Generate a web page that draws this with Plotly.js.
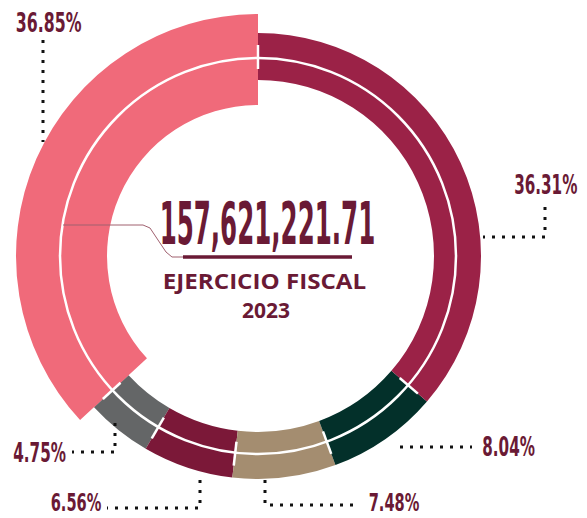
<!DOCTYPE html>
<html>
<head>
<meta charset="utf-8">
<script src="https://cdn.plot.ly/plotly-3.0.1.min.js"></script>
<style>html,body{margin:0;padding:0;background:#fff;}#chart{width:587px;height:518px;}</style>
</head>
<body>
<div id="chart"></div>
<script>
// ---- data ----
var categories = ["Segmento A", "Segmento B", "Segmento C", "Segmento D", "Segmento E", "Segmento F"];
var shares = [36.85, 4.75, 6.56, 7.48, 8.04, 36.31];
var colors = ["#F06A7A", "#646667", "#7B1838", "#A48D70", "#03302A", "#9B2247"];
var totalLabel = "157,621,221.71";
var subtitleLines = ["EJERCICIO FISCAL", "2023"];

// ---- geometry (pixels) ----
var W = 587, H = 518;
var cx = 258, cy = 256;
var ringOuter = 223, ringInner = 176;
var bigOuter = 242, bigInner = 151;
var lineR = 198;
var textColor = "#6A1A35";
var narrow = "Liberation Sans Narrow, DejaVu Sans Condensed, Arial Narrow, sans-serif";

function px(x) { return x / W; }
function py(y) { return 1 - y / H; }
function dom(R) { return { x: [px(cx - R), px(cx + R)], y: [py(cy + R), py(cy - R)] }; }

var total = shares.reduce(function (a, b) { return a + b; }, 0);
// counterclockwise mode ends the first slice at 'rotation'; shift so it starts at 12 o'clock
var rot = -360 * shares[0] / total;

var traceRing = {
  type: "pie", values: shares, labels: categories, sort: false,
  direction: "counterclockwise", rotation: rot, hole: ringInner / ringOuter,
  domain: dom(ringOuter), marker: { colors: colors, line: { width: 0 } },
  textinfo: "none", hoverinfo: "none", showlegend: false
};
var bigColors = colors.map(function (c, i) { return i === 0 ? c : "rgba(0,0,0,0)"; });
var traceBig = {
  type: "pie", values: shares, labels: categories, sort: false,
  direction: "counterclockwise", rotation: rot, hole: bigInner / bigOuter,
  domain: dom(bigOuter), marker: { colors: bigColors, line: { width: 0 } },
  textinfo: "none", hoverinfo: "none", showlegend: false
};

var shapes = [];
// white separating circle
shapes.push({ type: "circle", xref: "paper", yref: "paper", layer: "above",
  x0: px(cx - lineR), x1: px(cx + lineR), y0: py(cy + lineR), y1: py(cy - lineR),
  line: { color: "#ffffff", width: 2.5 } });
// white ticks at slice boundaries (slices run counterclockwise from 12 o'clock on screen)
var cum = 0;
for (var i = 0; i < shares.length; i++) {
  var th = cum / total * 2 * Math.PI;
  var r1 = 187, r2 = 211;
  var x1 = cx - r1 * Math.sin(th), y1 = cy - r1 * Math.cos(th);
  var x2 = cx - r2 * Math.sin(th), y2 = cy - r2 * Math.cos(th);
  shapes.push({ type: "line", xref: "paper", yref: "paper", layer: "above",
    x0: px(x1), y0: py(y1), x1: px(x2), y1: py(y2), line: { color: "#ffffff", width: 2.5 } });
  cum += shares[i];
}
function pathFrom(pts) {
  return pts.map(function (p, k) { return (k ? "L" : "M") + px(p[0]) + "," + py(p[1]); }).join(" ");
}
// dotted leaders
var leaders = [
  [[43, 40], [43, 142]],
  [[545, 207], [545, 237], [483, 237]],
  [[400, 447], [472, 447]],
  [[265, 480], [265, 505], [360, 505]],
  [[200, 480], [200, 508], [107, 508]],
  [[115, 423], [115, 452], [72, 452]]
];
leaders.forEach(function (pts) {
  shapes.push({ type: "path", xref: "paper", yref: "paper", layer: "above",
    path: pathFrom(pts), line: { color: "#111111", width: 3, dash: "3px,7px" } });
});
// underline and thin connector
shapes.push({ type: "line", xref: "paper", yref: "paper", layer: "above",
  x0: px(183), y0: py(257), x1: px(352), y1: py(257), line: { color: textColor, width: 3.5 } });
shapes.push({ type: "path", xref: "paper", yref: "paper", layer: "above",
  path: pathFrom([[63, 225], [143, 225], [150, 228], [166, 252], [172, 257], [183, 257]]),
  line: { color: "#a0606f", width: 1 } });

var labelPos = [[48, 22], [39, 453], [76, 502], [394, 502], [508, 447], [545, 185]];
var labelSize = [27, 26, 25, 25, 26, 26];
var annotations = shares.map(function (v, i) {
  return { xref: "paper", yref: "paper", x: px(labelPos[i][0]), y: py(labelPos[i][1]),
    xanchor: "center", yanchor: "middle", showarrow: false, text: v.toFixed(2) + "%",
    font: { family: narrow, size: labelSize[i], color: textColor, weight: 700 } };
});
annotations.push({ xref: "paper", yref: "paper", x: px(267), y: py(224), xanchor: "center", yanchor: "middle",
  showarrow: false, text: totalLabel, font: { family: narrow, size: 58, color: textColor, weight: 700 } });
annotations.push({ xref: "paper", yref: "paper", x: px(264), y: py(281), xanchor: "center", yanchor: "middle",
  showarrow: false, text: subtitleLines[0], font: { family: "Open Sans, sans-serif", size: 21, color: textColor, weight: 700 } });
annotations.push({ xref: "paper", yref: "paper", x: px(266), y: py(310), xanchor: "center", yanchor: "middle",
  showarrow: false, text: subtitleLines[1], font: { family: "Open Sans, sans-serif", size: 21, color: textColor, weight: 700 } });

var layout = {
  width: W, height: H, margin: { l: 0, r: 0, t: 0, b: 0 },
  paper_bgcolor: "#ffffff", showlegend: false, shapes: shapes, annotations: annotations
};

Plotly.newPlot("chart", [traceRing, traceBig], layout, { staticPlot: true }).then(function () {
  var scale = {};
  scale[totalLabel] = 0.47;
  scale[subtitleLines[0]] = 1.15;
  shares.forEach(function (v) { scale[v.toFixed(2) + "%"] = 0.65; });
  document.querySelectorAll(".annotation-text").forEach(function (t) {
    var s = scale[t.textContent];
    if (s) {
      t.style.transformBox = "fill-box";
      t.style.transformOrigin = "center";
      t.style.transform = "scaleX(" + s + ")";
    }
  });
});
</script>
</body>
</html>
